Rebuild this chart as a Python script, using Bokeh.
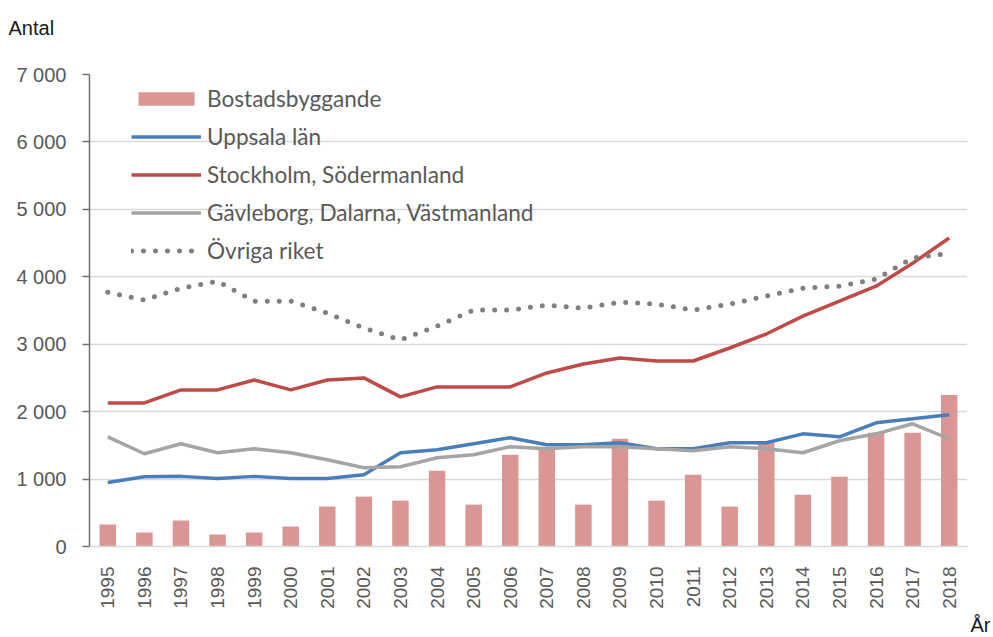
import math
from bokeh.plotting import figure
from bokeh.models import Range1d, FixedTicker, Legend, Title
from bokeh.embed import file_html
from bokeh.resources import INLINE

years = list(range(1995, 2019))
bostadsbyggande = [325, 207, 385, 178, 207, 296, 592, 740, 680, 1124, 621, 1361,
                   1470, 621, 1597, 680, 1065, 592, 1538, 769, 1035, 1686, 1686, 2248]
uppsala = [950, 1035, 1040, 1010, 1040, 1010, 1010, 1065, 1390, 1435, 1524, 1612,
           1509, 1509, 1538, 1450, 1450, 1538, 1538, 1671, 1627, 1834, 1893, 1953]
stockholm = [2130, 2130, 2322, 2322, 2470, 2322, 2470, 2500, 2219, 2367, 2367, 2367,
             2574, 2707, 2796, 2751, 2751, 2944, 3151, 3417, 3639, 3861, 4201, 4575]
gavleborg = [1627, 1376, 1524, 1390, 1450, 1390, 1287, 1168, 1183, 1316, 1361, 1479,
             1450, 1479, 1479, 1450, 1420, 1479, 1450, 1390, 1568, 1671, 1820, 1598]
ovriga = [3772, 3654, 3831, 3935, 3639, 3639, 3462, 3240, 3062, 3269, 3506, 3506,
          3580, 3535, 3624, 3595, 3506, 3595, 3713, 3831, 3861, 3964, 4280, 4349]
y_ticks = [0, 1000, 2000, 3000, 4000, 5000, 6000, 7000]
y_tick_labels = ["0", "1 000", "2 000", "3 000", "4 000", "5 000", "6 000", "7 000"]

TXT = "#595959"
p = figure(width=993, height=637, output_backend="svg", toolbar_location=None,
           x_range=Range1d(1994.5, 2018.5), y_range=Range1d(0, 7000),
           min_border_left=89, min_border_right=26, min_border_top=74,
           min_border_bottom=91)
p.outline_line_color = None
p.background_fill_color = "white"
p.border_fill_color = "white"

r_bar = p.vbar(x=years, top=bostadsbyggande, width=0.45, fill_color="#d99694",
               line_color=None)
r_upp = p.line(years, uppsala, line_color="#4a7ebb", line_width=3.5)
r_sto = p.line(years, stockholm, line_color="#be4b48", line_width=3.5)
r_gav = p.line(years, gavleborg, line_color="#a5a5a5", line_width=3.5)
r_ovr = p.line(years, ovriga, line_color="#7f7f7f", line_width=5, line_dash="0 12",
               line_cap="round")

# axes
p.xaxis.ticker = FixedTicker(ticks=years)
p.xaxis.major_label_orientation = math.pi / 2
p.xaxis.major_tick_line_color = None
p.xaxis.minor_tick_line_color = None
p.xaxis.axis_line_color = "#d9d9d9"
p.xaxis.axis_line_width = 1.5
p.xaxis.major_label_text_font = "Liberation Sans"
p.xaxis.major_label_text_font_size = "19px"
p.xaxis.major_label_text_color = TXT
p.xaxis.major_label_standoff = 14
p.xgrid.grid_line_color = None

p.yaxis.ticker = FixedTicker(ticks=y_ticks)
p.yaxis.major_label_overrides = {t: l for t, l in zip(y_ticks, y_tick_labels)}
p.yaxis.axis_line_color = "#6f6f6f"
p.yaxis.axis_line_width = 1.5
p.yaxis.major_tick_line_color = "#6f6f6f"
p.yaxis.major_tick_line_width = 1.5
p.yaxis.major_tick_in = 0
p.yaxis.major_tick_out = 7
p.yaxis.minor_tick_line_color = None
p.yaxis.major_label_text_font = "Liberation Sans"
p.yaxis.major_label_text_font_size = "20px"
p.yaxis.major_label_text_color = TXT
p.yaxis.major_label_standoff = 16
p.ygrid.grid_line_color = "#d9d9d9"
p.ygrid.grid_line_width = 1.5

legend = Legend(items=[
    ("Bostadsbyggande", [r_bar]),
    ("Uppsala län", [r_upp]),
    ("Stockholm, Södermanland", [r_sto]),
    ("Gävleborg, Dalarna, Västmanland", [r_gav]),
    ("Övriga riket", [r_ovr]),
], location=(42, 282))
legend.border_line_color = None
legend.background_fill_alpha = 0
legend.padding = 0
legend.margin = 0
legend.glyph_width = 70
legend.glyph_height = 17
legend.label_height = 16
legend.spacing = 11
legend.label_standoff = 6
legend.label_text_font = "Lato"
legend.label_text_font_size = "22.6px"
legend.label_text_color = TXT
legend.label_text_baseline = "middle"
p.add_layout(legend, "center")

p.title.text = "Antal\n "
p.title.align = "left"
p.title.vertical_align = "bottom"
p.title.offset = -81
p.title.standoff = 27
p.title.text_font = "Liberation Sans"
p.title.text_font_size = "20px"
p.title.text_font_style = "normal"
p.title.text_color = "#1a1a1a"

p.add_layout(Title(text="År", align="right", offset=-23, standoff=0,
                   text_font="Liberation Sans", text_font_size="20px",
                   text_font_style="normal", text_color="#1a1a1a"), "below")

open("out.html", "w").write(file_html(p, INLINE))
